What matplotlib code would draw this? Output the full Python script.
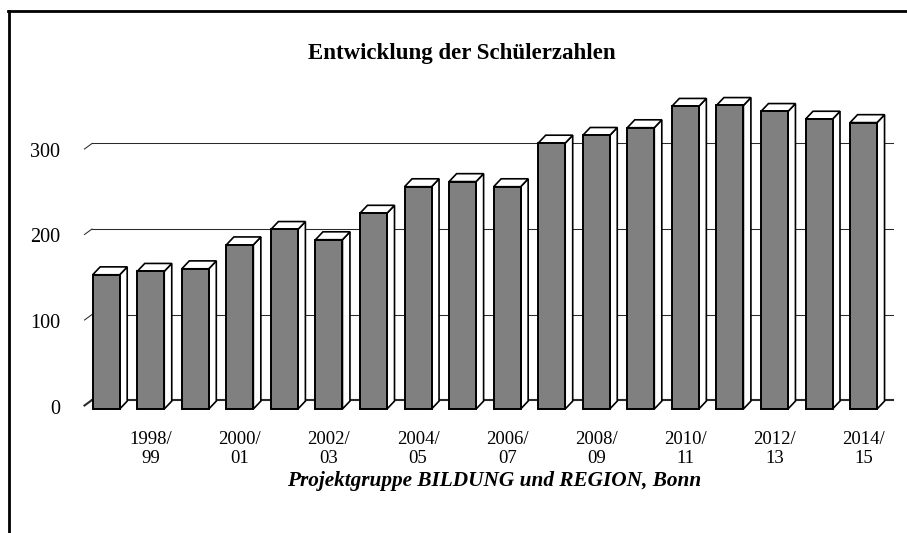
import matplotlib
matplotlib.use("Agg")
import matplotlib.pyplot as plt
from matplotlib.patches import Rectangle, Polygon
from matplotlib.lines import Line2D

# school years 1997/98 .. 2014/15
years = ["1997/\n98", "1998/\n99", "1999/\n00", "2000/\n01", "2001/\n02", "2002/\n03",
         "2003/\n04", "2004/\n05", "2005/\n06", "2006/\n07", "2007/\n08", "2008/\n09",
         "2009/\n10", "2010/\n11", "2011/\n12", "2012/\n13", "2013/\n14", "2014/\n15"]
students = [157, 161, 164, 192, 210, 198, 229, 260, 266, 260,
            311, 320, 329, 354, 355, 348, 339, 335]
yticks = [0, 100, 200, 300]

title = "Entwicklung der Schülerzahlen"
source = "Projektgruppe BILDUNG und REGION, Bonn"

W, H = 907, 533
fig = plt.figure(figsize=(W / 100, H / 100), dpi=100)
plt.rcParams['font.family'] = ['Liberation Serif', 'DejaVu Serif']

# axes placed so that one category = 44.55 px and one unit = 0.855 px
px_cat = 44.55
px_val = 0.855
x0, x1 = -1.0, 17.8
y0, y1 = -20, 400
left = 106.2 + x0 * px_cat
right = 106.2 + x1 * px_cat
bottom = (H - 409) + y0 * px_val
top = (H - 409) + y1 * px_val
ax = fig.add_axes([left / W, bottom / H, (right - left) / W, (top - bottom) / H])
ax.set_xlim(x0, x1)
ax.set_ylim(y0, y1)
ax.axis("off")

bw = 27 / px_cat          # front face width
dx = 7.5 / px_cat         # depth offset
dy = 7.9 / px_val
wall = 9.0 / px_val       # back wall offset above front plane

# back wall grid lines
wall_l = (92 - 106.2) / px_cat
wall_r = (892.7 - 106.2) / px_cat
for g in yticks:
    col = "#2a2a2a"
    lw = 2.0 if g == 0 else 1.0
    ax.plot([wall_l - 7.5 / px_cat, wall_l], [g + wall - 5.5 / px_val, g + wall],
            color=col, lw=lw * 0.75, zorder=1, clip_on=False)
    ax.plot([wall_l, wall_r], [g + wall, g + wall], color=col, lw=lw * 0.75,
            zorder=1, clip_on=False)

# 3d looking bars
for i, v in enumerate(students):
    xl = i - bw / 2
    xr = i + bw / 2
    side = Polygon([(xr, 0), (xr + dx, dy), (xr + dx, v + dy), (xr, v)],
                   closed=True, facecolor="white", edgecolor="black", lw=1.2, zorder=3)
    topf = Polygon([(xl, v), (xr, v), (xr + dx, v + dy), (xl + dx, v + dy)],
                   closed=True, facecolor="white", edgecolor="black", lw=1.2, zorder=3)
    front = Rectangle((xl, 0), bw, v, facecolor="#808080", edgecolor="black",
                      lw=1.4, zorder=4)
    ax.add_patch(side)
    ax.add_patch(topf)
    ax.add_patch(front)

# y labels
for g in yticks:
    ax.text((60 - 106.2) / px_cat, g, str(g), ha="right", va="center",
            fontsize=14.5, clip_on=False)

# x labels every second year
for i, lab in enumerate(years):
    if i % 2 == 1:
        ax.text(i, -26, lab, ha="center", va="top", fontsize=13.5,
                linespacing=1.1, clip_on=False)

fig.text(462 / W, 1 - 53 / H, title, ha="center", va="center",
         fontsize=16.5, fontweight="bold")
fig.text(494 / W, 1 - 481 / H, source, ha="center", va="center",
         fontsize=15.3, fontweight="bold", fontstyle="italic")

# frame (top and left edges of the cropped box)
fig.add_artist(Line2D([8 / W, 1], [1 - 11 / H, 1 - 11 / H], color="black", lw=2.0,
                      transform=fig.transFigure))
fig.add_artist(Line2D([8.5 / W, 8.5 / W], [0, 1 - 11 / H], color="black", lw=2.0,
                      transform=fig.transFigure))

fig.savefig("out.png", dpi=100)
